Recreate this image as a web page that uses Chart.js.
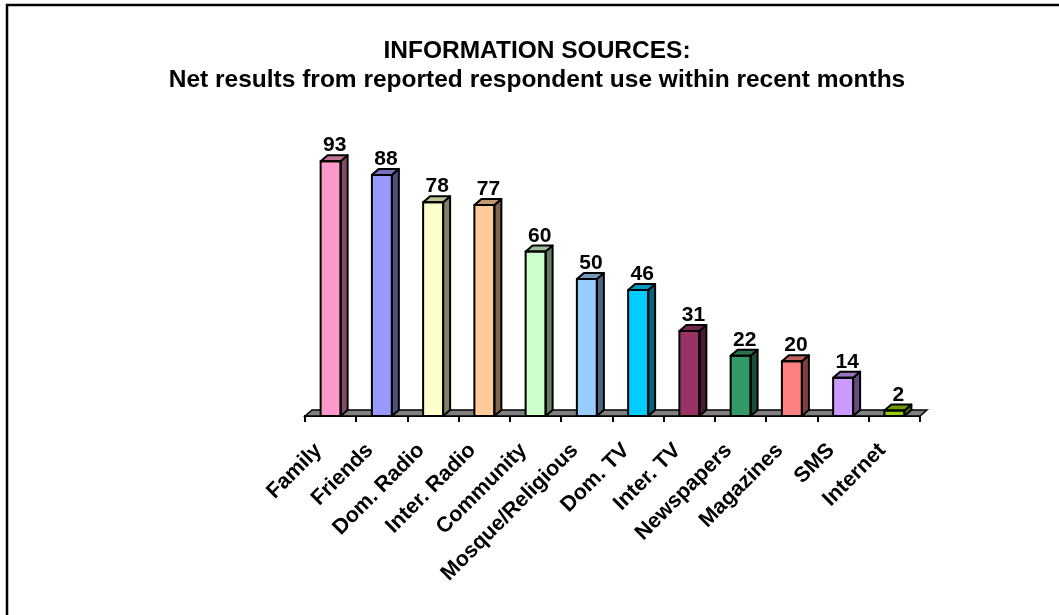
<!DOCTYPE html>
<html><head><meta charset="utf-8">
<script src="https://cdn.jsdelivr.net/npm/chart.js@4/dist/chart.umd.min.js"></script>
<style>html,body{margin:0;padding:0;background:#fff}canvas{display:block}</style>
</head><body>
<canvas id="c" width="1059" height="615"></canvas>
<script>
const categories = ['Family','Friends','Dom. Radio','Inter. Radio','Community','Mosque/Religious','Dom. TV','Inter. TV','Newspapers','Magazines','SMS','Internet'];
const values = [93,88,78,77,60,50,46,31,22,20,14,2];
const frontColors = ['#FF99CC','#9999FF','#FFFFCC','#FFCC99','#CCFFCC','#99CCFF','#00CCFF','#993366','#339966','#FF8080','#CC99FF','#99CC00'];
const titleLines = ['INFORMATION SOURCES:','Net results from reported respondent use within recent months'];
const yMin = 0, yMax = 100;

const FONT = '"Liberation Sans", Arial, Helvetica, sans-serif';
const DX = 7, DY = -6;

function shade(hex, f){
  const n = parseInt(hex.slice(1),16);
  const r = Math.round(((n>>16)&255)*f), g = Math.round(((n>>8)&255)*f), b = Math.round((n&255)*f);
  return 'rgb('+r+','+g+','+b+')';
}

const framePlugin = {
  id:'frame',
  beforeDraw(chart){
    const ctx = chart.ctx;
    ctx.save();
    ctx.fillStyle='#fff';
    ctx.fillRect(0,0,chart.width,chart.height);
    ctx.strokeStyle='#000';
    ctx.lineWidth=2.5;
    ctx.strokeRect(7,5,chart.width+20,chart.height+20);
    ctx.restore();
  }
};

const floorPlugin = {
  id:'floor',
  beforeDatasetsDraw(chart){
    const ctx = chart.ctx, a = chart.chartArea;
    const b = chart.scales.y.getPixelForValue(0);
    ctx.save();
    ctx.beginPath();
    ctx.moveTo(a.left, b);
    ctx.lineTo(a.left+DX, b+DY);
    ctx.lineTo(a.right+DX, b+DY);
    ctx.lineTo(a.right, b);
    ctx.closePath();
    ctx.fillStyle='#808080';
    ctx.fill();
    ctx.lineWidth=1.5;
    ctx.strokeStyle='#000';
    ctx.stroke();
    ctx.restore();
  }
};

const bars3dPlugin = {
  id:'bars3d',
  afterDatasetsDraw(chart){
    const ctx = chart.ctx;
    const meta = chart.getDatasetMeta(0);
    ctx.save();
    ctx.lineWidth=2;
    ctx.strokeStyle='#000';
    ctx.lineJoin='round';
    meta.data.forEach((bar,i)=>{
      const p = bar.getProps(['x','y','base','width'], true);
      const l = p.x - p.width/2, r = p.x + p.width/2, t = p.y, bo = p.base;
      ctx.beginPath();
      ctx.moveTo(r,t); ctx.lineTo(r+DX,t+DY); ctx.lineTo(r+DX,bo+DY); ctx.lineTo(r,bo); ctx.closePath();
      ctx.fillStyle = shade(frontColors[i],0.5); ctx.fill(); ctx.stroke();
      ctx.beginPath();
      ctx.moveTo(l,t); ctx.lineTo(l+DX,t+DY); ctx.lineTo(r+DX,t+DY); ctx.lineTo(r,t); ctx.closePath();
      ctx.fillStyle = shade(frontColors[i],0.75); ctx.fill(); ctx.stroke();
      ctx.strokeRect(l,t,p.width,bo-t);
      ctx.fillStyle='#000';
      ctx.font='bold 21px '+FONT;
      ctx.textAlign='center';
      ctx.textBaseline='alphabetic';
      ctx.fillText(String(values[i]), p.x + 4, t + DY - 4);
    });
    ctx.restore();
  }
};

new Chart(document.getElementById('c'), {
  type:'bar',
  data:{
    labels: categories,
    datasets:[{
      data: values,
      backgroundColor: frontColors,
      borderColor:'#000',
      borderWidth:0,
      categoryPercentage:1,
      barPercentage:0.39
    }]
  },
  options:{
    responsive:false,
    animation:false,
    devicePixelRatio:1,
    layout:{padding:{left:15,right:0,top:0,bottom:0}},
    plugins:{
      legend:{display:false},
      tooltip:{enabled:false},
      title:{
        display:true,
        text:titleLines,
        color:'#000',
        font:{family:FONT,size:24.5,weight:'bold',lineHeight:1.2},
        padding:{top:36.5,bottom:46.7}
      }
    },
    scales:{
      x:{
        grid:{display:true,drawOnChartArea:false,drawTicks:true,tickLength:6,color:'#000',lineWidth:2,offset:true},
        border:{display:true,color:'#000',width:2},
        ticks:{color:'#000',font:{family:FONT,size:21.5,weight:'bold'},minRotation:45,maxRotation:45,padding:16,labelOffset:-12,autoSkip:false},
        afterFit(s){ s.height = 199; }
      },
      y:{
        min:yMin,max:yMax,
        grid:{display:false},
        border:{display:false},
        ticks:{display:false},
        afterFit(s){ s.width = 290; }
      },
      y2:{
        position:'right',
        grid:{display:false},
        border:{display:false},
        ticks:{display:false},
        afterFit(s){ s.width = 139; }
      }
    }
  },
  plugins:[framePlugin, floorPlugin, bars3dPlugin]
});
</script>
</body></html>
